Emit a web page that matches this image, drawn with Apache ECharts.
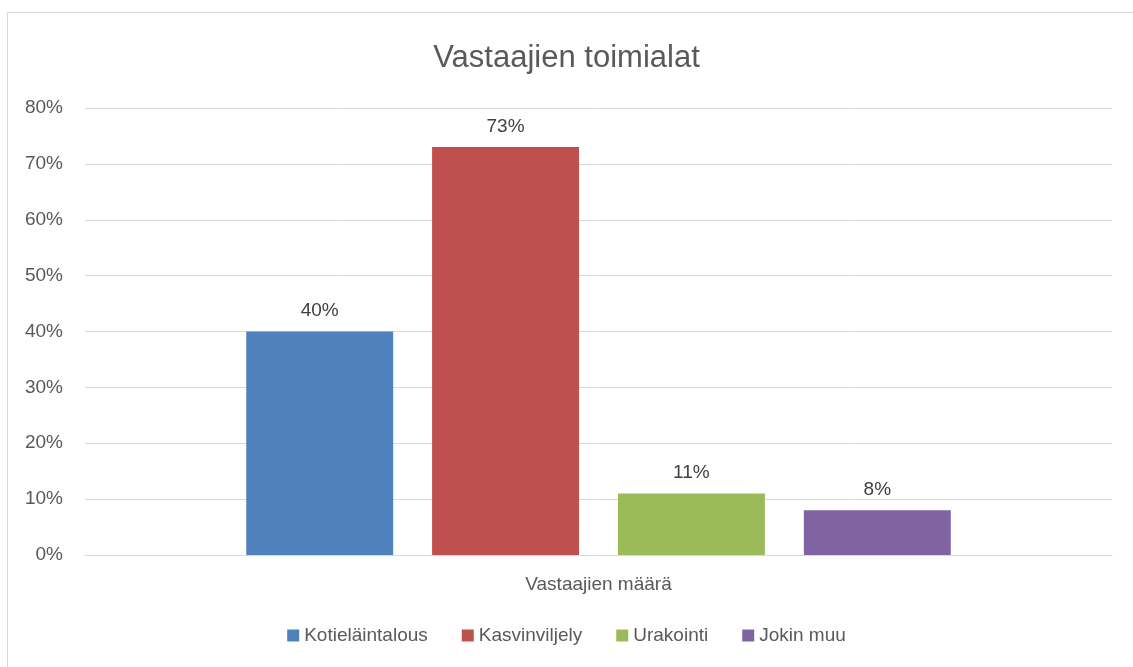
<!DOCTYPE html>
<html>
<head>
<meta charset="utf-8">
<script src="https://cdn.jsdelivr.net/npm/echarts@6/dist/echarts.min.js"></script>
<style>
html, body { margin: 0; padding: 0; background: #fff; }
#main { width: 1133px; height: 667px; position: relative; }
#frame { position: absolute; left: 7px; top: 12px; width: 1140px; height: 670px;
  border-left: 1px solid #d9d9d9; border-top: 1px solid #d9d9d9; pointer-events: none; }
</style>
</head>
<body>
<div id="main"></div>
<div id="frame"></div>
<script>
const categories = ["Vastaajien määrä"];
const seriesNames = ["Kotieläintalous", "Kasvinviljely", "Urakointi", "Jokin muu"];
const seriesValues = [40, 73, 11, 8];
const colors = ["#4f81bd", "#c0504d", "#9bbb59", "#8064a2"];

const chart = echarts.init(document.getElementById("main"));
const font = "'Liberation Sans Narrow', 'Arial Narrow', 'Liberation Sans', Arial, sans-serif";

const series = seriesNames.map((name, i) => ({
    name: name,
    type: 'bar',
    data: [seriesValues[i]],
    barGap: '26.5%',
    barCategoryGap: '31.4%',
    itemStyle: { color: colors[i] },
    label: {
        show: true,
        position: 'top',
        distance: 11,
        formatter: '{c}%',
        color: '#404040',
        fontSize: 19,
        fontFamily: font
    }
}));

chart.setOption({
    animation: false,
    textStyle: { fontFamily: font },
    title: {
        text: "Vastaajien toimialat",
        left: 'center',
        top: 38,
        textStyle: { fontSize: 31, fontWeight: 'normal', color: '#595959', fontFamily: font }
    },
    legend: {
        data: seriesNames,
        bottom: 17,
        left: 'center',
        icon: 'rect',
        itemWidth: 12,
        itemHeight: 12,
        itemGap: 34,
        textStyle: { fontSize: 19, color: '#595959', fontFamily: font }
    },
    grid: { left: 85, right: 21, top: 108, bottom: 112 },
    xAxis: {
        type: 'category',
        data: categories,
        axisTick: { show: false },
        axisLine: { lineStyle: { color: '#d9d9d9', width: 1 } },
        axisLabel: { color: '#595959', fontSize: 19, margin: 20, fontFamily: font }
    },
    yAxis: {
        type: 'value',
        min: 0,
        max: 80,
        interval: 10,
        axisLine: { show: false },
        axisTick: { show: false },
        splitLine: { lineStyle: { color: '#d9d9d9', width: 1 } },
        axisLabel: { formatter: '{value}%', color: '#595959', fontSize: 19, margin: 22, fontFamily: font }
    },
    series: series
});
</script>
</body>
</html>
